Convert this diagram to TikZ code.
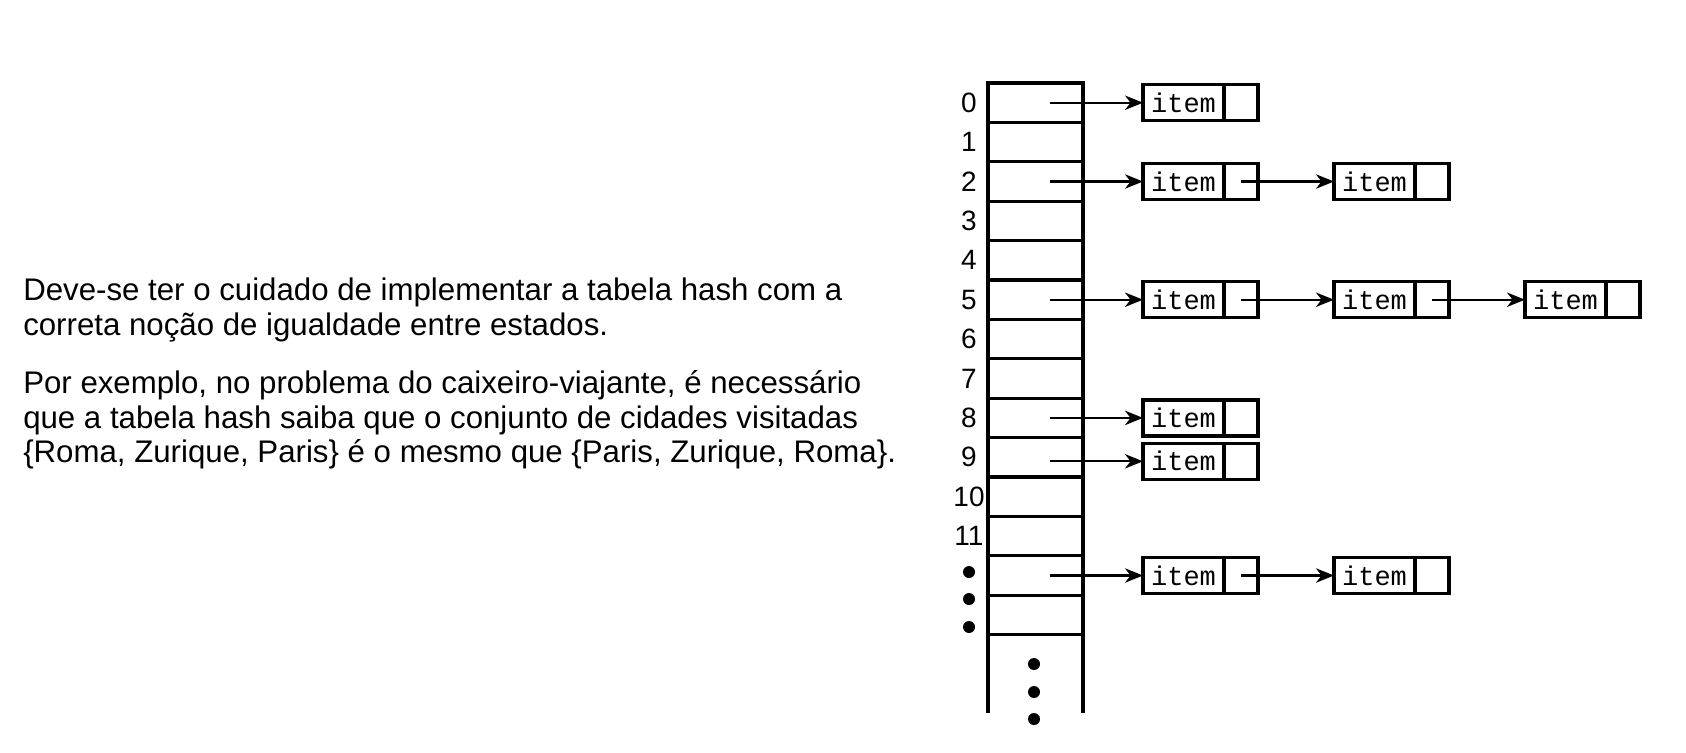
\documentclass[tikz,border=0pt]{standalone}
\usepackage{fontspec}
\setmainfont{Liberation Sans}
\newfontfamily\itemfont{Liberation Mono}
\usetikzlibrary{arrows.meta,positioning}

\tikzset{
  cell/.style = {draw, line width=2.3pt, minimum width=2.375cm, minimum height=0.985cm, inner sep=0pt, outer sep=0pt},
  item/.style = {draw, line width=2.3pt, minimum width=2.025cm, minimum height=0.9cm, inner sep=0pt, outer sep=0pt, font=\itemfont\fontsize{19.2}{20}\selectfont},
  ptr/.style = {draw, line width=2.3pt, minimum width=0.85cm, minimum height=0.9cm, inner sep=0pt, outer sep=0pt},
  lbl/.style = {inner sep=0pt, font=\fontsize{19.9}{22.4}\selectfont},
  dot/.style = {circle, fill, inner sep=0pt, minimum size=0.3cm},
  link/.style = {line width=1.6pt, -{Stealth[length=0.45cm, width=0.36cm, inset=0.14cm]}}
}

\begin{document}
\begin{tikzpicture}[x=0.025cm, y=-0.025cm]
  \useasboundingbox (0,0) rectangle (1686,752);

  % Text
  \node[anchor=north west, inner sep=0pt, align=left, font=\fontsize{22.2}{24.5}\selectfont] (txt) at (23,278)
    {Deve-se ter o cuidado de implementar a tabela hash com a\\
     correta noção de igualdade entre estados.\\[0.6cm]
     Por exemplo, no problema do caixeiro-viajante, é necessário\\
     que a tabela hash saiba que o conjunto de cidades visitadas\\
     \{Roma, Zurique, Paris\} é o mesmo que \{Paris, Zurique, Roma\}.};

  % Table
  \foreach \r in {0,...,13}
    \node[cell] (c\r) at (1035.5, {83+39.4*(\r+0.5)}) {};
  \draw[line width=2.3pt] (c13.south west) -- ++(0,78);
  \draw[line width=2.3pt] (c13.south east) -- ++(0,78);

  % Indices
  \foreach \r in {0,...,11}
    \node[lbl] (n\r) at (969, {83+39.4*(\r+0.5)}) {\r};
  \node[dot] (d1) at (969,572) {};
  \node[dot] (d2) at (969,599) {};
  \node[dot] (d3) at (969,627) {};
  \node[dot] (d4) at (1034,664) {};
  \node[dot] (d5) at (1034,692) {};
  \node[dot] (d6) at (1034,719) {};

  % Chains
  \foreach \r/\n/\dy in {0/1/0, 2/2/0, 5/3/0, 8/1/0, 9/1/4, 12/2/0} {
    \path (c\r.center) ++(14.5,\dy) coordinate (s\r);
    \foreach \k [remember=\k as \prev (initially 0)] in {1,...,\n} {
      \node[item] (i\r-\k) at ({1183.5+191*(\k-1)}, {83+39.4*(\r+0.5)+\dy}) {item};
      \node[ptr, right=0pt of i\r-\k] (p\r-\k) {};
      \ifnum\k>1
        \draw[link] (p\r-\prev.center) -- (i\r-\k.west);
      \fi
    }
    \draw[link] (s\r) -- (i\r-1.west);
  }
\end{tikzpicture}
\end{document}
